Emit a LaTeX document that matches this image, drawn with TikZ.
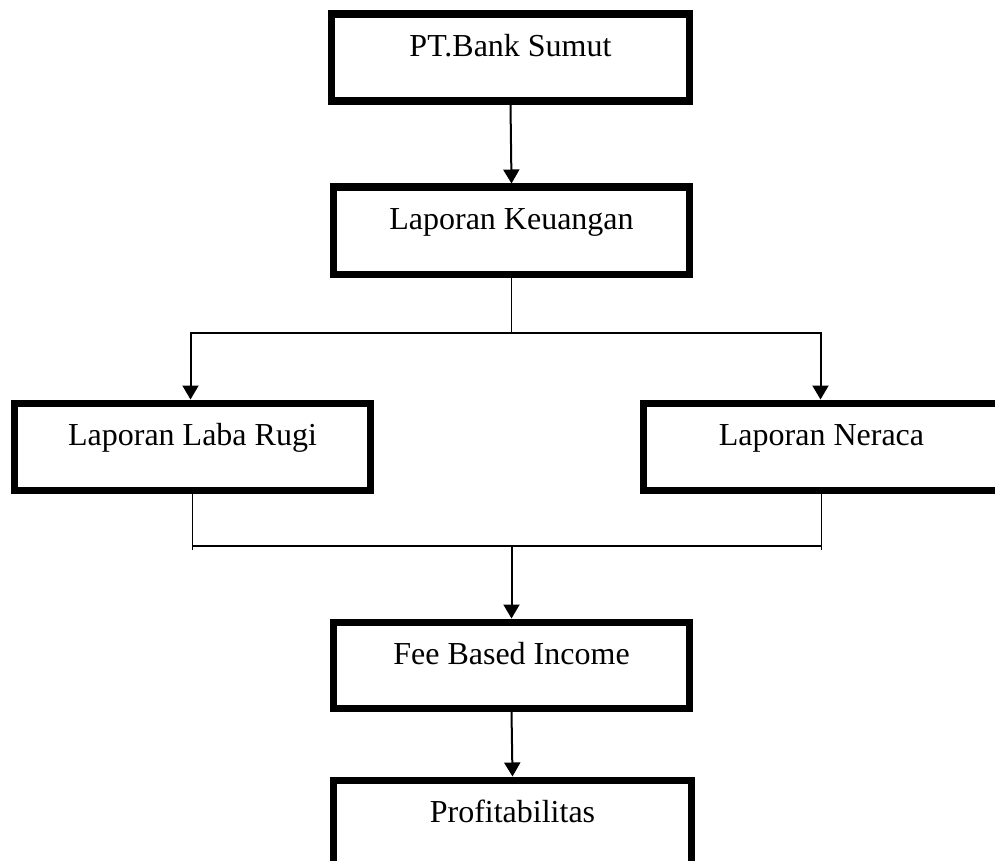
\documentclass[tikz,border=0pt]{standalone}
\usepackage{fontspec}
\setmainfont{Liberation Serif}
\usetikzlibrary{arrows.meta}
\tikzset{
  stepbox/.style={draw=black, line width=7.5pt, inner sep=0pt, anchor=north,
    minimum width=356pt, text height=42pt, text depth=45pt,
    font=\fontsize{32}{38}\selectfont},
  conn/.style={draw=black, line width=1.6pt},
  arr/.style={draw=black, line width=2pt, -{Triangle[length=14pt,width=16pt]}}
}
\begin{document}
\begin{tikzpicture}[x=1pt,y=-1pt]
\useasboundingbox (0,0) rectangle (995,861);
\clip (0,0) rectangle (995,861);
\fill[white] (0,0) rectangle (995,861);
\node[stepbox, minimum width=358pt] (b1) at (510.5,10.5) {PT.Bank Sumut};
\node[stepbox] (b2) at (511.5,183.5) {Laporan Keuangan};
\node[stepbox] (b3) at (192.5,399.5) {Laporan Laba Rugi};
\node[stepbox] (bR) at (821.5,399.5) {Laporan Neraca};
\node[stepbox, text depth=44pt] (b4) at (511.5,618.5) {Fee Based Income};
\node[stepbox, minimum width=358pt] (b5) at (512.5,776.5) {Profitabilitas};
\coordinate (j1) at (511.5,333);
\coordinate (lb) at (193,550);
\coordinate (hl) at (193,546);
\coordinate (jm) at (511.5,546);
% connectors
\draw[arr] (b1.south) -- (b2.north);
\draw[conn] (b2.south) -- (j1);
\draw[arr] (j1) -| ([xshift=-2pt]b3.north);
\draw[arr] (j1) -| ([xshift=-1pt]bR.north);
\draw[conn] (b3.south) -- (b3.south |- lb);
\draw[conn] (bR.south) -- (bR.south |- lb);
\draw[conn] (b3.south |- hl) -- (bR.south |- hl);
\draw[arr] (jm) -- (b4.north);
\draw[arr] (b4.south) -- (b5.north);
\end{tikzpicture}
\end{document}
